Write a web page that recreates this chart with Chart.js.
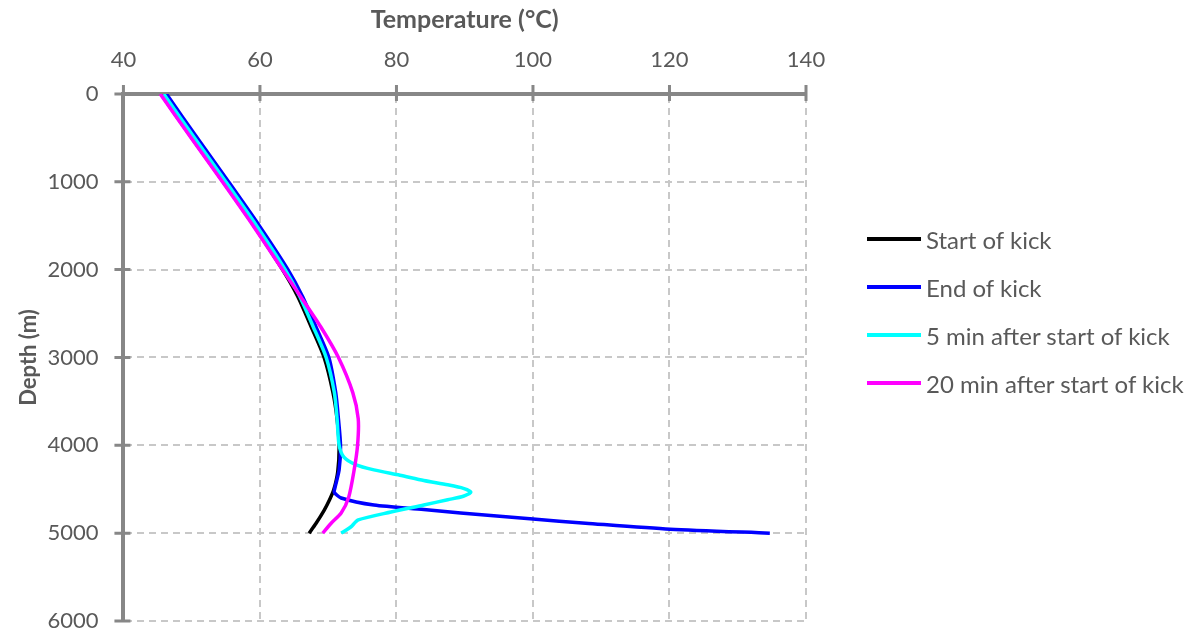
<!DOCTYPE html>
<html>
<head>
<meta charset="utf-8">
<title>Temperature vs Depth</title>
<script src="https://cdn.jsdelivr.net/npm/chart.js@4.4.0/dist/chart.umd.min.js"></script>
<style>
    html, body { margin: 0; padding: 0; background: #fff; }
    #wrap { position: relative; width: 1199px; height: 632px; }
    #legend { position: absolute; left: 867px; top: 215px; font-family: Lato, sans-serif; font-size: 24px; color: #595959; }
    .item { display: flex; align-items: center; height: 48px; white-space: nowrap; }
    .swatch { width: 54px; height: 4px; margin-right: 5px; }
</style>
</head>
<body>
<div id="wrap">
    <canvas id="chart" width="1199" height="632"></canvas>
    <div id="legend"></div>
</div>
<script>
// 数据
const seriesNames = ['Start of kick', 'End of kick', '5 min after start of kick', '20 min after start of kick'];
const seriesColors = ['#000000', '#0000ff', '#00ffff', '#ff00ff'];

const tempTicks = [40, 60, 80, 100, 120, 140];
const depthTicks = [0, 1000, 2000, 3000, 4000, 5000, 6000];

// Start of kick
const startDepth = [0, 500, 1000, 1500, 2000, 2300, 2650, 3000, 3400, 3700, 4000, 4300, 4510, 4620, 4740, 4890, 5000];
const startTemp  = [45.5, 50.0, 54.6, 59.1, 63.3, 65.5, 67.5, 69.4, 70.7, 71.3, 71.6, 71.4, 70.8, 70.2, 69.4, 68.2, 67.2];

// End of kick
const endDepth = [0, 500, 1000, 1500, 2000, 2300, 2650, 3000, 3400, 3700, 4000, 4280, 4480, 4535, 4600, 4680, 4730, 4770, 4800, 4840, 4886, 4955, 5000];
const endTemp  = [46.3, 50.8, 55.4, 59.9, 64.1, 66.2, 68.2, 70.1, 71.1, 71.5, 71.8, 71.6, 71.0, 70.9, 71.9, 76.7, 84.0, 89.4, 93.8, 100.0, 107.7, 120.1, 134.7];

// 5 min after start of kick
const min5Depth = [0, 500, 1000, 1500, 2000, 2300, 2650, 3000, 3400, 3700, 4000, 4135, 4220, 4280, 4340, 4400, 4450, 4490, 4533, 4580, 4620, 4680, 4760, 4850, 4930, 5000];
const min5Temp  = [45.9, 50.4, 55.0, 59.5, 63.7, 65.8, 67.8, 69.7, 70.9, 71.3, 71.6, 72.3, 74.0, 76.7, 80.5, 84.0, 87.5, 89.8, 90.9, 89.8, 87.5, 84.0, 79.2, 74.4, 73.3, 71.9];

// 20 min after start of kick
const min20Depth = [0, 500, 1000, 1500, 2000, 2300, 2650, 3000, 3400, 3700, 4000, 4280, 4590, 4770, 4890, 5000];
const min20Temp  = [45.4, 49.9, 54.5, 59.0, 63.3, 65.9, 68.9, 71.5, 73.6, 74.4, 74.3, 73.8, 73.0, 71.9, 70.4, 69.2];

const seriesDepth = [startDepth, endDepth, min5Depth, min20Depth];
const seriesTemp = [startTemp, endTemp, min5Temp, min20Temp];

const axisGray = '#878787';
const gridGray = '#c8c8c8';
const textGray = '#595959';

// 交叉刻度：轴线两侧都画
const crossTicks = {
    id: 'crossTicks',
    afterDatasetsDraw(chart) {
        const { ctx, chartArea, scales: { x, y } } = chart;
        ctx.save();
        ctx.strokeStyle = axisGray;
        ctx.lineWidth = 3;
        ctx.beginPath();
        x.ticks.forEach(t => {
            const px = x.getPixelForValue(t.value);
            ctx.moveTo(px, chartArea.top - 9);
            ctx.lineTo(px, chartArea.top + 7);
        });
        y.ticks.forEach(t => {
            const py = y.getPixelForValue(t.value);
            ctx.moveTo(chartArea.left - 9, py);
            ctx.lineTo(chartArea.left + 7, py);
        });
        ctx.stroke();
        ctx.restore();
    }
};

const datasets = seriesNames.map((name, i) => ({
    label: name,
    data: seriesDepth[i].map((d, j) => ({ x: seriesTemp[i][j], y: d })),
    borderColor: seriesColors[i],
    backgroundColor: seriesColors[i],
    borderWidth: 3.5,
    showLine: true,
    pointRadius: 0,
    tension: 0.25,
    order: seriesNames.length - i
}));

new Chart(document.getElementById('chart'), {
    type: 'scatter',
    data: { datasets },
    options: {
        responsive: false,
        animation: false,
        layout: { padding: { left: 0, right: 393, top: 0, bottom: 11 } },
        plugins: {
            legend: { display: false },
            tooltip: { enabled: false }
        },
        scales: {
            x: {
                type: 'linear',
                position: 'top',
                min: tempTicks[0],
                max: tempTicks[tempTicks.length - 1],
                ticks: {
                    stepSize: tempTicks[1] - tempTicks[0],
                    color: textGray,
                    font: { family: 'Lato', size: 22 },
                    padding: 13,
                    maxRotation: 0
                },
                grid: { color: gridGray, lineWidth: 2, tickLength: 8, tickColor: 'rgba(0,0,0,0)' },
                border: { display: true, color: axisGray, width: 4, dash: [7, 5] },
                title: {
                    display: true,
                    text: 'Temperature (°C)',
                    color: textGray,
                    font: { family: 'Lato', size: 25, weight: 'bold', lineHeight: 1.1 },
                    padding: { top: 6, bottom: 0 }
                }
            },
            y: {
                type: 'linear',
                reverse: true,
                min: depthTicks[0],
                max: depthTicks[depthTicks.length - 1],
                ticks: {
                    stepSize: depthTicks[1] - depthTicks[0],
                    color: textGray,
                    font: { family: 'Lato', size: 22, lineHeight: 1.0 },
                    padding: 0,
                    callback: v => String(v)
                },
                grid: { color: gridGray, lineWidth: 2, tickLength: 25, tickColor: 'rgba(0,0,0,0)' },
                border: { display: true, color: axisGray, width: 4, dash: [7, 5] },
                title: {
                    display: true,
                    text: 'Depth (m)',
                    color: textGray,
                    font: { family: 'Lato', size: 22, weight: 'bold' },
                    padding: { top: 16, bottom: 5 }
                }
            }
        }
    },
    plugins: [crossTicks]
});

// 图例
const legendEl = document.getElementById('legend');
seriesNames.forEach((name, i) => {
    const row = document.createElement('div');
    row.className = 'item';
    row.innerHTML = `<span class="swatch" style="background:${seriesColors[i]}"></span><span>${name}</span>`;
    legendEl.appendChild(row);
});
</script>
</body>
</html>
